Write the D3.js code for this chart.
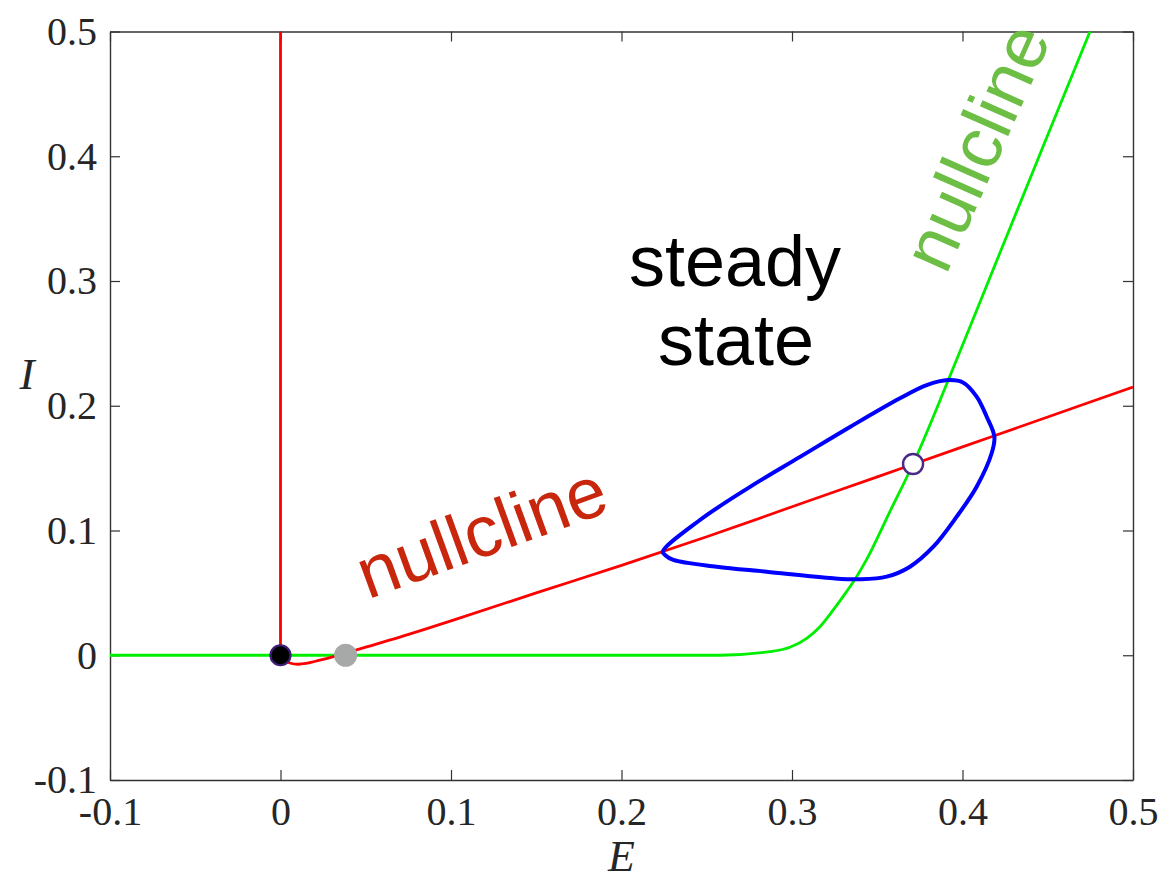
<!DOCTYPE html>
<html>
<head>
<meta charset="utf-8">
<script src="https://cdn.jsdelivr.net/npm/d3@7"></script>
<style>
  html, body { margin: 0; padding: 0; background: #ffffff; }
  svg { display: block; }
</style>
</head>
<body>
<script>
// Phase plane of an excitatory/inhibitory (E, I) population model.

// Axis ticks
const xTicks = [-0.1, 0, 0.1, 0.2, 0.3, 0.4, 0.5];
const xTickLabels = ["-0.1", "0", "0.1", "0.2", "0.3", "0.4", "0.5"];
const yTicks = [-0.1, 0, 0.1, 0.2, 0.3, 0.4, 0.5];
const yTickLabels = ["-0.1", "0", "0.1", "0.2", "0.3", "0.4", "0.5"];

// E-nullcline (red), vertical branch at E = 0
const eNullVertE = [0, 0];
const eNullVertI = [0.5, 0];

// E-nullcline (red), rising branch
const eNullE = [0, 0.003, 0.006, 0.01, 0.015, 0.02, 0.03, 0.04, 0.05, 0.07, 0.1, 0.15, 0.2, 0.25, 0.3, 0.35, 0.4, 0.45, 0.5];
const eNullI = [0, -0.0045, -0.0064, -0.0072, -0.0066, -0.005, -0.0015, 0.0025, 0.0065, 0.0145, 0.0275, 0.05, 0.072, 0.095, 0.119, 0.143, 0.167, 0.191, 0.215];

// I-nullcline (green)
const iNullE = [-0.1, 0.1, 0.258, 0.2871, 0.2988, 0.3086, 0.3164, 0.3242, 0.332, 0.3379, 0.3438, 0.357, 0.371, 0.3917, 0.42, 0.45, 0.4748];
const iNullI = [0, 0, 0, 0.0029, 0.0064, 0.0136, 0.0229, 0.0363, 0.051, 0.063, 0.0768, 0.114, 0.1533, 0.2206, 0.316, 0.417, 0.5];

// Limit cycle (blue), closed orbit
const cycleE = [0.2242, 0.246, 0.2754, 0.3047, 0.334, 0.3633, 0.379, 0.3917, 0.4005, 0.4083, 0.4142, 0.4187, 0.4171, 0.4083, 0.3966, 0.3829, 0.3692, 0.3555, 0.3399, 0.3242, 0.2851, 0.2558, 0.2304, 0.2255];
const cycleI = [0.083, 0.1084, 0.135, 0.159, 0.183, 0.206, 0.2166, 0.2206, 0.2185, 0.2073, 0.1912, 0.1752, 0.1619, 0.1351, 0.1111, 0.087, 0.071, 0.063, 0.0609, 0.0617, 0.067, 0.071, 0.0764, 0.0804];

// Fixed points
const fixedPoints = [
  { E: 0, I: 0, kind: "stable" },
  { E: 0.0382, I: 0, kind: "saddle" },
  { E: 0.371, I: 0.1533, kind: "unstable" }
];

const W = 1162, H = 882;
const margin = { left: 110, right: 29, top: 31.5, bottom: 102 };

const x = d3.scaleLinear().domain([-0.1, 0.5]).range([margin.left, W - margin.right]);
const y = d3.scaleLinear().domain([-0.1, 0.5]).range([H - margin.bottom, margin.top]);

const svg = d3.select("body").append("svg")
  .attr("width", W).attr("height", H)
  .style("background", "#ffffff");

svg.append("defs").append("clipPath").attr("id", "plot-clip")
  .append("rect")
  .attr("x", x(-0.1)).attr("y", y(0.5))
  .attr("width", x(0.5) - x(-0.1)).attr("height", y(-0.1) - y(0.5));

const tickFont = "'Liberation Serif', 'DejaVu Serif', serif";
const axisColor = "#333333";

function styleAxis(g) {
  g.selectAll("path.domain").attr("stroke", axisColor).attr("stroke-width", 1.4);
  g.selectAll(".tick line").attr("stroke", axisColor).attr("stroke-width", 1.2);
  g.selectAll(".tick text")
    .attr("fill", "#262626")
    .style("font-family", tickFont)
    .style("font-size", "40px");
}

// Bottom axis with labels
svg.append("g")
  .attr("transform", `translate(0,${y(-0.1)})`)
  .call(d3.axisBottom(x).tickValues(xTicks).tickSizeInner(-10).tickSizeOuter(0).tickPadding(17)
    .tickFormat((d, i) => xTickLabels[i]))
  .call(styleAxis);

// Left axis with labels
svg.append("g")
  .attr("transform", `translate(${x(-0.1)},0)`)
  .call(d3.axisLeft(y).tickValues(yTicks).tickSizeInner(-10).tickSizeOuter(0).tickPadding(13)
    .tickFormat((d, i) => yTickLabels[i]))
  .call(styleAxis);

// Top and right axes: ticks only
svg.append("g")
  .attr("transform", `translate(0,${y(0.5)})`)
  .call(d3.axisTop(x).tickValues(xTicks).tickSizeInner(-10).tickSizeOuter(0).tickFormat(""))
  .call(styleAxis);

svg.append("g")
  .attr("transform", `translate(${x(0.5)},0)`)
  .call(d3.axisRight(y).tickValues(yTicks).tickSizeInner(-10).tickSizeOuter(0).tickFormat(""))
  .call(styleAxis);

// Axis titles
svg.append("text")
  .attr("x", (x(-0.1) + x(0.5)) / 2).attr("y", 871)
  .attr("text-anchor", "middle")
  .style("font-family", tickFont).style("font-style", "italic").style("font-size", "44px")
  .attr("fill", "#262626")
  .text("E");

svg.append("text")
  .attr("x", 27).attr("y", 389)
  .attr("text-anchor", "middle")
  .style("font-family", tickFont).style("font-style", "italic").style("font-size", "45px")
  .attr("fill", "#262626")
  .text("I");

const plot = svg.append("g").attr("clip-path", "url(#plot-clip)");

const toPts = (xs, ys) => xs.map((e, i) => [e, ys[i]]);
const lineGen = curve => d3.line().x(d => x(d[0])).y(d => y(d[1])).curve(curve);

// Green I-nullcline
plot.append("path")
  .datum(toPts(iNullE, iNullI))
  .attr("fill", "none").attr("stroke", "#00ee00").attr("stroke-width", 2.8)
  .attr("d", lineGen(d3.curveMonotoneX));

// Red E-nullcline: vertical branch and rising branch
plot.append("path")
  .datum(toPts(eNullVertE, eNullVertI))
  .attr("fill", "none").attr("stroke", "#ff0000").attr("stroke-width", 2.8)
  .attr("d", lineGen(d3.curveLinear));

plot.append("path")
  .datum(toPts(eNullE, eNullI))
  .attr("fill", "none").attr("stroke", "#ff0000").attr("stroke-width", 2.8)
  .attr("d", lineGen(d3.curveCatmullRom.alpha(0.5)));

// Blue limit cycle
plot.append("path")
  .datum(toPts(cycleE, cycleI))
  .attr("fill", "none").attr("stroke", "#0000ff").attr("stroke-width", 4)
  .attr("stroke-linejoin", "round")
  .attr("d", lineGen(d3.curveCatmullRomClosed.alpha(0.5)));

// Fixed points
const markerStyle = {
  stable: { r: 10, fill: "#000000", stroke: "#3d1f78", sw: 2.2 },
  saddle: { r: 11.5, fill: "#a7a9a8", stroke: "none", sw: 0 },
  unstable: { r: 10, fill: "#ffffff", stroke: "#4a2a86", sw: 2.4 }
};
svg.selectAll("circle.fp")
  .data(fixedPoints)
  .join("circle")
  .attr("class", "fp")
  .attr("cx", d => x(d.E)).attr("cy", d => y(d.I))
  .attr("r", d => markerStyle[d.kind].r)
  .attr("fill", d => markerStyle[d.kind].fill)
  .attr("stroke", d => markerStyle[d.kind].stroke)
  .attr("stroke-width", d => markerStyle[d.kind].sw);

// Annotations
const sans = "'Liberation Sans', Arial, Helvetica, sans-serif";

svg.append("text")
  .attr("x", 735).attr("y", 286)
  .attr("text-anchor", "middle")
  .style("font-family", sans).style("font-size", "72px")
  .attr("fill", "#000000")
  .text("steady");

svg.append("text")
  .attr("x", 736).attr("y", 365)
  .attr("text-anchor", "middle")
  .style("font-family", sans).style("font-size", "72px")
  .attr("fill", "#000000")
  .text("state");

svg.append("text")
  .attr("transform", "translate(490,555) rotate(-20)")
  .attr("text-anchor", "middle")
  .style("font-family", sans).style("font-size", "72px")
  .attr("fill", "#c8270d")
  .text("nullcline");

svg.append("text")
  .attr("transform", "translate(999,157) rotate(-66)")
  .attr("text-anchor", "middle")
  .style("font-family", sans).style("font-size", "72px")
  .attr("fill", "#6cbe45")
  .text("nullcline");
</script>
</body>
</html>
